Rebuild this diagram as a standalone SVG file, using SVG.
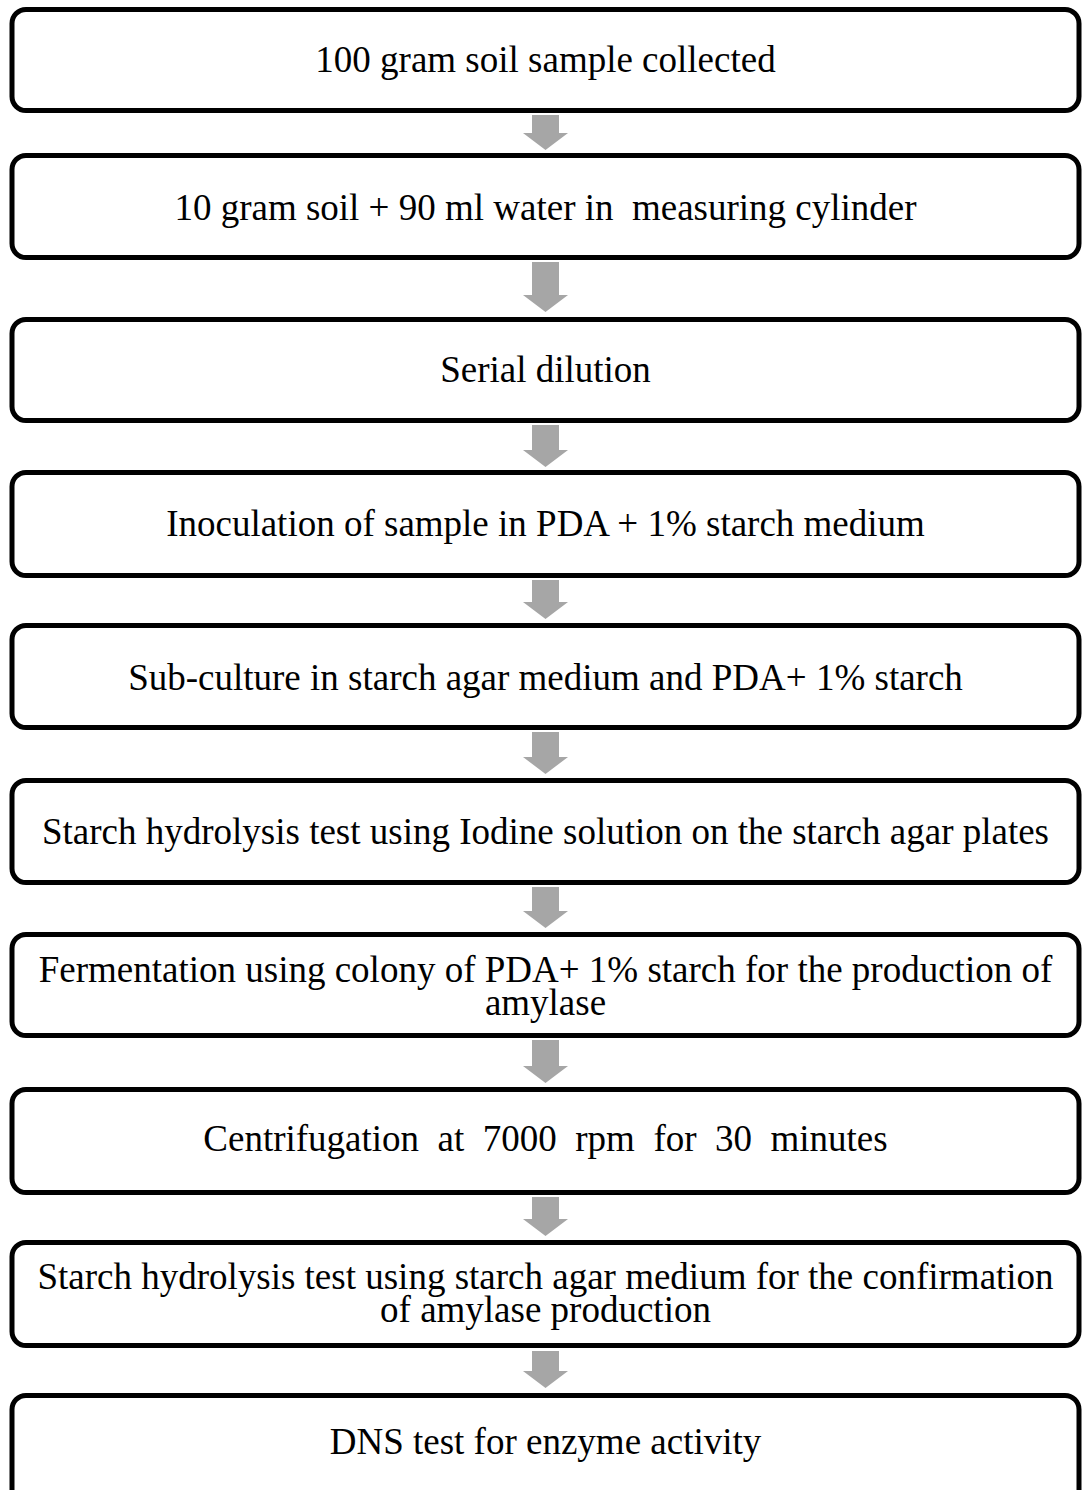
<svg xmlns="http://www.w3.org/2000/svg" width="1083" height="1490" viewBox="0 0 1083 1490">
<style>
.box{fill:#fff;stroke:#000;stroke-width:5}
.t{font-family:"Liberation Serif","Times New Roman",serif;font-size:37px;fill:#000;text-anchor:middle;white-space:pre}
.arr{fill:#a6a6a6}
</style>
<rect width="1083" height="1490" fill="#fff"/>
<g id="connectors">
<path class="arr" d="M532,115 H559 V133 H568 L545.5,150 L523,133 H532 Z"/>
<path class="arr" d="M532,262 H559 V295 H568 L545.5,312 L523,295 H532 Z"/>
<path class="arr" d="M532,425 H559 V450 H568 L545.5,467 L523,450 H532 Z"/>
<path class="arr" d="M532,580 H559 V602 H568 L545.5,619 L523,602 H532 Z"/>
<path class="arr" d="M532,732 H559 V757 H568 L545.5,774 L523,757 H532 Z"/>
<path class="arr" d="M532,887 H559 V911 H568 L545.5,928 L523,911 H532 Z"/>
<path class="arr" d="M532,1040 H559 V1066 H568 L545.5,1083 L523,1066 H532 Z"/>
<path class="arr" d="M532,1197 H559 V1219 H568 L545.5,1236 L523,1219 H532 Z"/>
<path class="arr" d="M532,1351 H559 V1371 H568 L545.5,1388 L523,1371 H532 Z"/>
</g>
<g id="n1"><rect class="box" x="12" y="9.5" width="1067" height="101" rx="14"/><text class="t" x="545.5" y="72">100 gram soil sample collected</text></g>
<g id="n2"><rect class="box" x="12" y="155.5" width="1067" height="102" rx="14"/><text class="t" x="545.5" y="220">10 gram soil + 90 ml water in  measuring cylinder</text></g>
<g id="n3"><rect class="box" x="12" y="319.5" width="1067" height="101" rx="14"/><text class="t" x="545.5" y="382">Serial dilution</text></g>
<g id="n4"><rect class="box" x="12" y="472.5" width="1067" height="103" rx="14"/><text class="t" x="545.5" y="536">Inoculation of sample in PDA + 1% starch medium</text></g>
<g id="n5"><rect class="box" x="12" y="625.5" width="1067" height="102" rx="14"/><text class="t" x="545.5" y="690">Sub-culture in starch agar medium and PDA+ 1% starch</text></g>
<g id="n6"><rect class="box" x="12" y="780.5" width="1067" height="102" rx="14"/><text class="t" x="545.5" y="844">Starch hydrolysis test using Iodine solution on the starch agar plates</text></g>
<g id="n7"><rect class="box" x="12" y="934.5" width="1067" height="101" rx="14"/><text class="t" x="545.5" y="982"><tspan x="545.5" y="982">Fermentation using colony of PDA+ 1% starch for the production of</tspan><tspan x="545.5" y="1015">amylase</tspan></text></g>
<g id="n8"><rect class="box" x="12" y="1089.5" width="1067" height="103" rx="14"/><text class="t" x="545.5" y="1151">Centrifugation  at  7000  rpm  for  30  minutes</text></g>
<g id="n9"><rect class="box" x="12" y="1242.5" width="1067" height="103" rx="14"/><text class="t" x="545.5" y="1289"><tspan x="545.5" y="1289">Starch hydrolysis test using starch agar medium for the confirmation</tspan><tspan x="545.5" y="1322">of amylase production</tspan></text></g>
<g id="n10"><rect class="box" x="12" y="1395.5" width="1067" height="110" rx="14"/><text class="t" x="545.5" y="1454">DNS test for enzyme activity</text></g>
</svg>
